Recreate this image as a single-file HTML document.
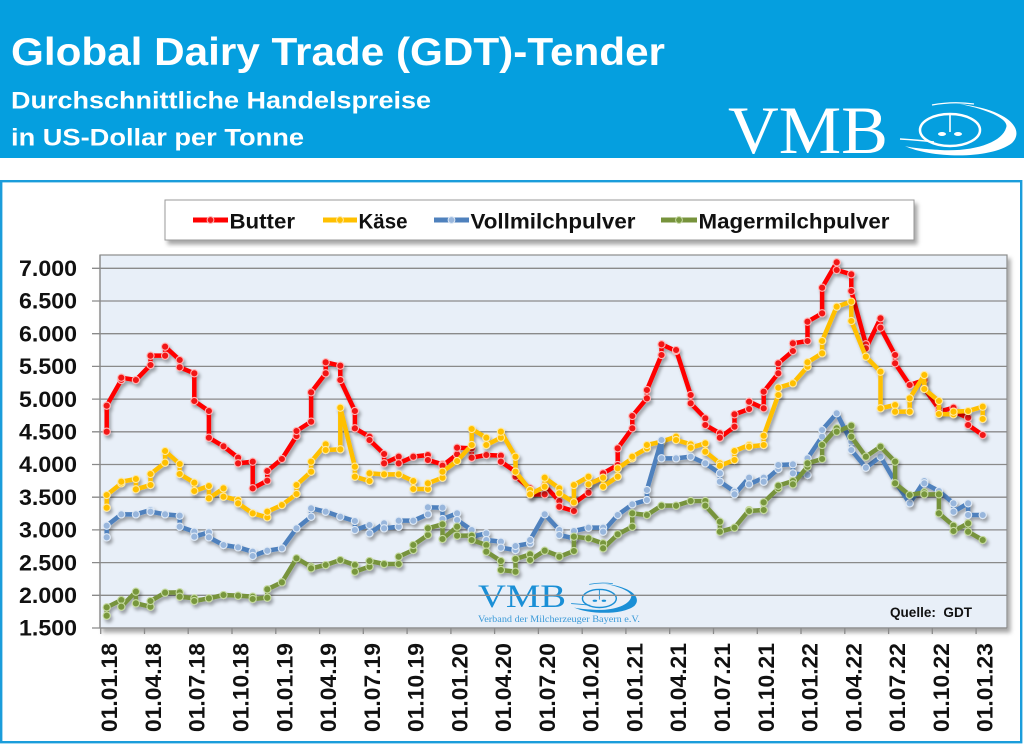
<!DOCTYPE html>
<html>
<head>
<meta charset="utf-8">
<style>
html,body{margin:0;padding:0;background:#fff;}
svg{display:block;}
</style>
</head>
<body>
<svg width="1024" height="744" viewBox="0 0 1024 744" xmlns="http://www.w3.org/2000/svg" font-family="'Liberation Sans', Arial, sans-serif">
<defs>
  <filter id="sh" x="-5%" y="-5%" width="112%" height="115%">
    <feDropShadow dx="2" dy="3" stdDeviation="1.5" flood-color="#000" flood-opacity="0.33"/>
  </filter>
  <filter id="bsh" x="-5%" y="-10%" width="112%" height="130%">
    <feDropShadow dx="3" dy="4" stdDeviation="2" flood-color="#000" flood-opacity="0.35"/>
  </filter>
  <marker id="mR" markerUnits="userSpaceOnUse" viewBox="-5 -5 10 10" refX="0" refY="0" markerWidth="0.68493" markerHeight="30" preserveAspectRatio="none">
    <circle r="3.6" fill="#f21414" stroke="#ffb4b4" stroke-width="1.1"/>
  </marker>
  <marker id="mY" markerUnits="userSpaceOnUse" viewBox="-5 -5 10 10" refX="0" refY="0" markerWidth="0.68493" markerHeight="30" preserveAspectRatio="none">
    <circle r="3.6" fill="#ffc000" stroke="#ffe9a0" stroke-width="1.1"/>
  </marker>
  <marker id="mB" markerUnits="userSpaceOnUse" viewBox="-5 -5 10 10" refX="0" refY="0" markerWidth="0.68493" markerHeight="30" preserveAspectRatio="none">
    <circle r="3.6" fill="#98b6dc" stroke="#dde8f5" stroke-width="1.1"/>
  </marker>
  <marker id="mG" markerUnits="userSpaceOnUse" viewBox="-5 -5 10 10" refX="0" refY="0" markerWidth="0.68493" markerHeight="30" preserveAspectRatio="none">
    <circle r="3.6" fill="#78973e" stroke="#c5d9a0" stroke-width="1.1"/>
  </marker>
  <g id="sw">
    <path d="M7,54 C32,66 92,68 114,51 C127,38 112,18 62,12 C92,18 112,28 108,36 C104,50 77,60 42,58 C27,57 14,56 7,54 Z" fill="currentColor"/>
    <ellipse cx="52" cy="38" rx="30" ry="16" fill="none" stroke="currentColor" stroke-width="2.5"/>
    <path d="M2,47 Q20,48 36,50" fill="none" stroke="currentColor" stroke-width="1.5"/>
    <path d="M34,13 Q55,9 76,12" fill="none" stroke="currentColor" stroke-width="1.3"/>
    <path d="M55,0 A5,5 0 1 0 64,5 A4,4 0 1 1 55,0 Z" fill="currentColor"/>
    <path d="M52,22 L52,40" fill="none" stroke="currentColor" stroke-width="1.6"/>
    <ellipse cx="44" cy="42" rx="4" ry="2" fill="currentColor"/>
    <ellipse cx="60" cy="42" rx="4" ry="2" fill="currentColor"/>
  </g>
</defs>

<!-- Header -->
<rect x="0" y="0" width="1024" height="158" fill="#059fdf"/>
<text x="11" y="65" font-size="39" font-weight="bold" fill="#fff" textLength="654" lengthAdjust="spacingAndGlyphs">Global Dairy Trade (GDT)-Tender</text>
<text x="11" y="108.5" font-size="24" font-weight="bold" fill="#fff" textLength="420" lengthAdjust="spacingAndGlyphs">Durchschnittliche Handelspreise</text>
<text x="11" y="145.5" font-size="24" font-weight="bold" fill="#fff" textLength="293" lengthAdjust="spacingAndGlyphs">in US-Dollar per Tonne</text>
<text x="728" y="153" font-family="'Liberation Serif', serif" font-size="68" fill="#fff" textLength="160" lengthAdjust="spacingAndGlyphs">VMB</text>
<use href="#sw" x="0" y="0" transform="translate(898,92)" style="color:#fff"/>

<!-- Chart frame -->
<rect x="1.2" y="181.2" width="1020" height="561" fill="#fff" stroke="#1b9ddb" stroke-width="2.4"/>

<!-- Legend -->
<rect x="165" y="200" width="749" height="40" fill="#fff" stroke="#9a9a9a" stroke-width="1" filter="url(#bsh)"/>
<g stroke-width="5" stroke-linecap="butt">
  <line x1="193" y1="220" x2="228" y2="220" stroke="#ff0000"/>
  <line x1="323" y1="220" x2="357" y2="220" stroke="#ffc000"/>
  <line x1="434" y1="220" x2="469" y2="220" stroke="#4f81bd"/>
  <line x1="661" y1="220" x2="697" y2="220" stroke="#77933c"/>
</g>
<circle cx="210.5" cy="220" r="3.4" fill="#f21414" stroke="#ffb4b4" stroke-width="1"/>
<circle cx="340" cy="220" r="3.4" fill="#ffc000" stroke="#ffe9a0" stroke-width="1"/>
<circle cx="451.5" cy="220" r="3.4" fill="#98b6dc" stroke="#dde8f5" stroke-width="1"/>
<circle cx="679" cy="220" r="3.4" fill="#78973e" stroke="#c5d9a0" stroke-width="1"/>
<g font-size="21" font-weight="bold" fill="#111">
  <text x="229.5" y="228.5" textLength="65.5" lengthAdjust="spacingAndGlyphs">Butter</text>
  <text x="358.5" y="228.5" textLength="49" lengthAdjust="spacingAndGlyphs">Käse</text>
  <text x="470.5" y="228.5" textLength="165" lengthAdjust="spacingAndGlyphs">Vollmilchpulver</text>
  <text x="698.5" y="228.5" textLength="191" lengthAdjust="spacingAndGlyphs">Magermilchpulver</text>
</g>

<!-- Plot area -->
<rect x="100" y="255" width="907" height="373" fill="#e8eff8" stroke="#8c8c8c" stroke-width="1.2" filter="url(#bsh)"/>

<!-- Watermark -->
<text x="478" y="607" font-family="'Liberation Serif', serif" font-size="33" fill="#1a8fd6" textLength="88" lengthAdjust="spacingAndGlyphs">VMB</text>
<use href="#sw" transform="translate(570,577) scale(0.565)" style="color:#1a8fd6"/>
<text x="478" y="622" font-family="'Liberation Serif', serif" font-size="9.5" fill="#3b9ad8" textLength="162" lengthAdjust="spacingAndGlyphs">Verband der Milcherzeuger Bayern e.V.</text>

<!-- Grid -->
<g stroke="#8a8a8a" stroke-width="1.3">
  <line x1="92" y1="268.3" x2="1007" y2="268.3"/>
  <line x1="92" y1="301" x2="1007" y2="301"/>
  <line x1="92" y1="333.7" x2="1007" y2="333.7"/>
  <line x1="92" y1="366.4" x2="1007" y2="366.4"/>
  <line x1="92" y1="399.1" x2="1007" y2="399.1"/>
  <line x1="92" y1="431.8" x2="1007" y2="431.8"/>
  <line x1="92" y1="464.5" x2="1007" y2="464.5"/>
  <line x1="92" y1="497.2" x2="1007" y2="497.2"/>
  <line x1="92" y1="529.9" x2="1007" y2="529.9"/>
  <line x1="92" y1="562.6" x2="1007" y2="562.6"/>
  <line x1="92" y1="595.3" x2="1007" y2="595.3"/>
  <line x1="92" y1="628" x2="1007" y2="628"/>
  <line x1="100" y1="255" x2="100" y2="628"/>
</g>
<g stroke="#8a8a8a" stroke-width="1.3">
  <line x1="100.7" y1="628" x2="100.7" y2="634"/>
  <line x1="144.5" y1="628" x2="144.5" y2="634"/>
  <line x1="188.2" y1="628" x2="188.2" y2="634"/>
  <line x1="232" y1="628" x2="232" y2="634"/>
  <line x1="275.8" y1="628" x2="275.8" y2="634"/>
  <line x1="319.6" y1="628" x2="319.6" y2="634"/>
  <line x1="363.3" y1="628" x2="363.3" y2="634"/>
  <line x1="407.1" y1="628" x2="407.1" y2="634"/>
  <line x1="450.9" y1="628" x2="450.9" y2="634"/>
  <line x1="494.6" y1="628" x2="494.6" y2="634"/>
  <line x1="538.4" y1="628" x2="538.4" y2="634"/>
  <line x1="582.2" y1="628" x2="582.2" y2="634"/>
  <line x1="625.9" y1="628" x2="625.9" y2="634"/>
  <line x1="669.7" y1="628" x2="669.7" y2="634"/>
  <line x1="713.5" y1="628" x2="713.5" y2="634"/>
  <line x1="757.3" y1="628" x2="757.3" y2="634"/>
  <line x1="801" y1="628" x2="801" y2="634"/>
  <line x1="844.8" y1="628" x2="844.8" y2="634"/>
  <line x1="888.6" y1="628" x2="888.6" y2="634"/>
  <line x1="932.3" y1="628" x2="932.3" y2="634"/>
  <line x1="976.1" y1="628" x2="976.1" y2="634"/>
</g>

<!-- Y labels -->
<g font-size="22" font-weight="bold" fill="#111" text-anchor="end">
  <text x="77" y="276" textLength="58" lengthAdjust="spacingAndGlyphs">7.000</text>
  <text x="77" y="308.7" textLength="58" lengthAdjust="spacingAndGlyphs">6.500</text>
  <text x="77" y="341.4" textLength="58" lengthAdjust="spacingAndGlyphs">6.000</text>
  <text x="77" y="374.1" textLength="58" lengthAdjust="spacingAndGlyphs">5.500</text>
  <text x="77" y="406.8" textLength="58" lengthAdjust="spacingAndGlyphs">5.000</text>
  <text x="77" y="439.5" textLength="58" lengthAdjust="spacingAndGlyphs">4.500</text>
  <text x="77" y="472.2" textLength="58" lengthAdjust="spacingAndGlyphs">4.000</text>
  <text x="77" y="504.9" textLength="58" lengthAdjust="spacingAndGlyphs">3.500</text>
  <text x="77" y="537.6" textLength="58" lengthAdjust="spacingAndGlyphs">3.000</text>
  <text x="77" y="570.3" textLength="58" lengthAdjust="spacingAndGlyphs">2.500</text>
  <text x="77" y="603" textLength="58" lengthAdjust="spacingAndGlyphs">2.000</text>
  <text x="77" y="635.7" textLength="58" lengthAdjust="spacingAndGlyphs">1.500</text>
</g>

<!-- X labels -->
<g font-size="22.5" font-weight="bold" fill="#111">
  <text transform="translate(117.2,732) rotate(-90)" textLength="89" lengthAdjust="spacingAndGlyphs">01.01.18</text>
  <text transform="translate(161,732) rotate(-90)" textLength="89" lengthAdjust="spacingAndGlyphs">01.04.18</text>
  <text transform="translate(204.7,732) rotate(-90)" textLength="89" lengthAdjust="spacingAndGlyphs">01.07.18</text>
  <text transform="translate(248.5,732) rotate(-90)" textLength="89" lengthAdjust="spacingAndGlyphs">01.10.18</text>
  <text transform="translate(292.3,732) rotate(-90)" textLength="89" lengthAdjust="spacingAndGlyphs">01.01.19</text>
  <text transform="translate(336.1,732) rotate(-90)" textLength="89" lengthAdjust="spacingAndGlyphs">01.04.19</text>
  <text transform="translate(379.8,732) rotate(-90)" textLength="89" lengthAdjust="spacingAndGlyphs">01.07.19</text>
  <text transform="translate(423.6,732) rotate(-90)" textLength="89" lengthAdjust="spacingAndGlyphs">01.10.19</text>
  <text transform="translate(467.4,732) rotate(-90)" textLength="89" lengthAdjust="spacingAndGlyphs">01.01.20</text>
  <text transform="translate(511.1,732) rotate(-90)" textLength="89" lengthAdjust="spacingAndGlyphs">01.04.20</text>
  <text transform="translate(554.9,732) rotate(-90)" textLength="89" lengthAdjust="spacingAndGlyphs">01.07.20</text>
  <text transform="translate(598.7,732) rotate(-90)" textLength="89" lengthAdjust="spacingAndGlyphs">01.10.20</text>
  <text transform="translate(642.4,732) rotate(-90)" textLength="89" lengthAdjust="spacingAndGlyphs">01.01.21</text>
  <text transform="translate(686.2,732) rotate(-90)" textLength="89" lengthAdjust="spacingAndGlyphs">01.04.21</text>
  <text transform="translate(730,732) rotate(-90)" textLength="89" lengthAdjust="spacingAndGlyphs">01.07.21</text>
  <text transform="translate(773.8,732) rotate(-90)" textLength="89" lengthAdjust="spacingAndGlyphs">01.10.21</text>
  <text transform="translate(817.5,732) rotate(-90)" textLength="89" lengthAdjust="spacingAndGlyphs">01.01.22</text>
  <text transform="translate(861.3,732) rotate(-90)" textLength="89" lengthAdjust="spacingAndGlyphs">01.04.22</text>
  <text transform="translate(905.1,732) rotate(-90)" textLength="89" lengthAdjust="spacingAndGlyphs">01.07.22</text>
  <text transform="translate(948.8,732) rotate(-90)" textLength="89" lengthAdjust="spacingAndGlyphs">01.10.22</text>
  <text transform="translate(992.6,732) rotate(-90)" textLength="89" lengthAdjust="spacingAndGlyphs">01.01.23</text>
</g>

<!-- Series -->
<g filter="url(#sh)">
<polyline transform="matrix(14.6 0 0 0.333333 106.7 255)" fill="none" stroke="#ff0000" stroke-width="4.5" vector-effect="non-scaling-stroke" stroke-linejoin="round" stroke-linecap="round" marker-start="url(#mR)" marker-mid="url(#mR)" marker-end="url(#mR)"
points="0,530 0,452 1,375 1,368 2,375 3,330 3,302 4,302 4,275 5,315 5,337 6,355 6,438 7,468 7,548 8,574 9,608 9,625 10,620 10,700 11,677 11,648 12,612 13,543 13,528 14,500 14,412 15,355 15,322 16,332 16,375 17,468 17,520 18,545 18,555 19,597 19,625 20,605 20,625 21,605 22,600 22,615 23,628 23,632 24,598 24,578 25,580 25,608 26,600 27,602 27,620 28,650 28,665 29,700 29,718 30,718 30,692 31,738 31,755 32,768 32,745 33,713 33,688 34,668 34,655 35,630 35,580 36,520 36,483 37,430 37,405 38,300 38,268 39,288 39,285 40,420 40,445 41,490 41,510 42,535 42,548 43,515 43,478 44,462 44,440 45,460 45,410 46,355 46,325 47,288 47,265 48,258 48,200 49,175 49,98 50,22 50,45 51,58 51,108 52,268 52,280 53,190 53,218 54,300 54,325 55,390 56,375 56,400 57,462 57,470 58,458 58,470 59,488 59,510 60,540"/>
</g>
<g filter="url(#sh)">
<polyline transform="matrix(14.6 0 0 0.333333 106.7 255)" fill="none" stroke="#ffc000" stroke-width="4.5" vector-effect="non-scaling-stroke" stroke-linejoin="round" stroke-linecap="round" marker-start="url(#mY)" marker-mid="url(#mY)" marker-end="url(#mY)"
points="0,758 0,720 1,685 1,680 2,672 2,703 3,690 3,657 4,623 4,588 5,627 5,657 6,683 6,708 7,693 7,730 8,700 8,725 9,735 9,745 10,775 11,787 11,770 12,750 13,717 13,690 14,650 14,620 15,568 15,585 16,583 16,458 17,635 17,665 18,678 18,655 19,658 20,658 21,678 21,702 22,702 22,685 23,668 23,650 24,618 25,570 25,522 26,548 26,570 27,548 27,530 28,605 28,650 29,705 29,718 30,695 30,668 31,700 31,715 32,742 32,690 33,665 33,688 34,668 34,695 35,665 35,640 36,610 36,605 37,580 37,570 38,560 39,545 39,555 40,568 40,578 41,565 41,590 42,625 42,632 43,615 43,588 44,570 44,575 45,570 45,542 46,420 46,398 47,385 48,335 48,322 49,295 49,258 50,155 51,140 51,198 52,305 53,350 53,460 54,450 54,470 55,470 55,430 56,360 56,402 57,438 57,477 58,478 58,470 59,468 60,455 60,492"/>
</g>
<g filter="url(#sh)">
<polyline transform="matrix(14.6 0 0 0.333333 106.7 255)" fill="none" stroke="#4f81bd" stroke-width="4.5" vector-effect="non-scaling-stroke" stroke-linejoin="round" stroke-linecap="round" marker-start="url(#mB)" marker-mid="url(#mB)" marker-end="url(#mB)"
points="0,847 0,812 1,778 2,778 3,765 3,770 4,778 5,782 5,815 6,830 6,845 7,832 7,847 8,870 9,877 10,890 10,903 11,887 12,880 13,820 14,785 14,760 15,770 16,785 17,798 17,825 18,810 18,835 19,805 19,820 20,815 20,797 21,797 22,778 22,757 23,758 23,792 24,775 24,795 25,825 25,845 26,835 26,855 27,860 27,878 28,885 28,873 29,865 29,855 30,778 31,825 31,840 32,850 32,828 33,818 34,818 34,830 35,780 36,748 37,735 37,705 38,555 38,610 39,610 40,605 41,625 42,655 42,680 43,710 43,718 44,668 44,688 45,668 45,680 46,642 46,630 47,628 47,655 48,660 48,610 49,545 49,525 50,475 51,560 51,585 52,638 53,605 54,680 55,745 56,678 56,685 57,708 58,745 58,770 59,745 59,780 60,780"/>
</g>
<g filter="url(#sh)">
<polyline transform="matrix(14.6 0 0 0.333333 106.7 255)" fill="none" stroke="#77933c" stroke-width="4.5" vector-effect="non-scaling-stroke" stroke-linejoin="round" stroke-linecap="round" marker-start="url(#mG)" marker-mid="url(#mG)" marker-end="url(#mG)"
points="0,1082 0,1057 1,1035 1,1055 2,1010 2,1045 3,1055 3,1038 4,1013 5,1012 5,1025 6,1030 6,1038 7,1030 8,1020 9,1022 10,1025 10,1032 11,1028 11,1003 12,982 13,910 14,935 14,940 15,930 16,915 17,930 17,950 18,935 18,918 19,927 20,927 20,905 21,885 21,870 22,840 22,820 23,808 23,852 24,815 24,842 25,842 25,855 26,870 26,890 27,918 27,945 28,950 28,912 29,898 29,915 30,887 31,903 31,905 32,888 32,845 33,850 34,865 34,880 35,838 36,815 36,775 37,780 38,752 39,752 40,738 41,738 41,752 42,800 42,830 43,818 44,765 44,768 45,765 45,742 46,700 46,692 47,678 47,688 48,635 48,625 49,612 49,570 50,520 50,530 51,512 51,545 52,605 53,575 54,620 54,685 55,720 56,712 56,718 57,718 57,775 58,812 58,828 59,805 59,830 60,855"/>
</g>

<!-- Source -->
<text x="890" y="617" font-size="13.5" font-weight="bold" fill="#111" textLength="82" lengthAdjust="spacingAndGlyphs" xml:space="preserve">Quelle:  GDT</text>
</svg>
</body>
</html>
